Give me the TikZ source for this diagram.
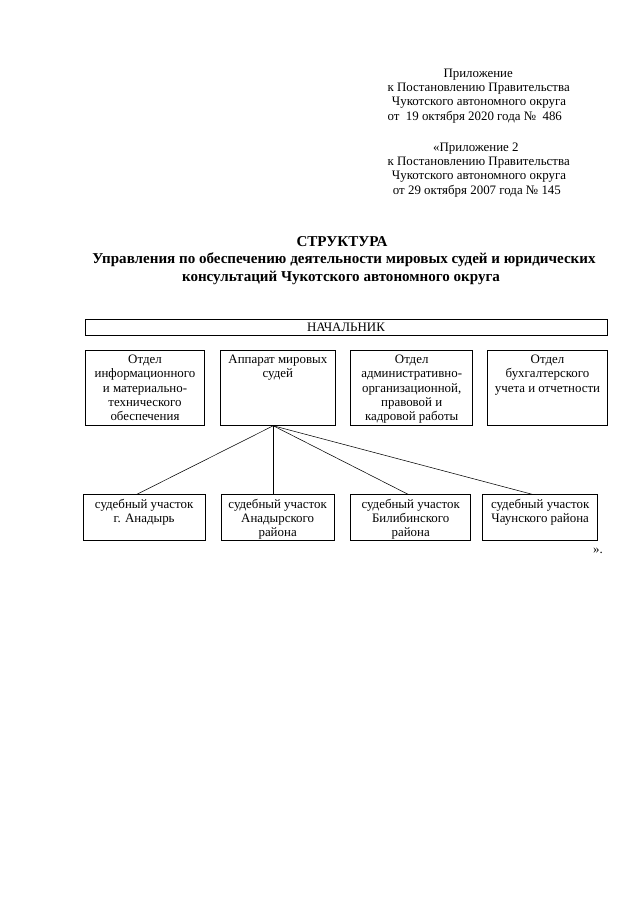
\documentclass[tikz,border=0pt]{standalone}
\usepackage{fontspec}
\setmainfont{Liberation Serif}
\usepackage{tikz}
\usetikzlibrary{calc, fit}
\tikzset{
  org box/.style={
    draw,
    line width=0.5pt,
    inner sep=0pt
  },
  box text/.style={
    anchor=north,
    align=center,
    inner sep=0pt,
    yshift=-4.2pt,
    font=\fontsize{12}{13.25}\selectfont
  },
  head line/.style={
    anchor=base west,
    inner sep=0pt,
    font=\fontsize{12}{13.8}\selectfont
  },
  title line/.style={
    anchor=base,
    inner sep=0pt,
    font=\fontsize{14}{16}\selectfont\bfseries
  },
  link/.style={
    line width=0.5pt
  }
}

\begin{document}
\begin{tikzpicture}[x=0.9297pt, y=-0.9297pt]

  %% ---- page frame (pixels of the scan, y downwards) ----
  \useasboundingbox[fill=white] (0,0) rectangle (640,905);

  %% ---- header in the upper right corner ----
  \node[head line] (hd1) at (443.3, 77)  {Приложение};
  \node[head line] (hd2) at (387.3, 91)  {к Постановлению Правительства};
  \node[head line] (hd3) at (391.7, 105.5) {Чукотского автономного округа};
  \node[head line] (hd4) at (387.3, 120.5) {от \ 19 октября 2020 года № \ 486};

  \node[head line] (hd5) at (433.0, 151)  {«Приложение 2};
  \node[head line] (hd6) at (387.3, 165)  {к Постановлению Правительства};
  \node[head line] (hd7) at (391.7, 179.5) {Чукотского автономного округа};
  \node[head line] (hd8) at (392.7, 194)  {от 29 октября 2007 года № 145};

  %% ---- title ----
  \node[title line] (ttl1) at (342, 246) {СТРУКТУРА};
  \node[title line] (ttl2) at (344, 263.5)
      {Управления по обеспечению деятельности мировых судей и юридических};
  \node[title line] (ttl3) at (341, 281) {консультаций Чукотского автономного округа};

  %% ---- head of the department ----
  \node[org box, fit={(85.7,319) (607.7,335)}] (chief) {};
  \node[head line, anchor=base] (chieftxt) at (346, 331.5) {НАЧАЛЬНИК};

  %% ---- first row: sections ----
  \node[org box, fit={(85.7,350.7) (204.3,425.5)}] (otdinf) {};
  \node[org box, fit={(220.7,350.7) (335.0,425.5)}] (apparat) {};
  \node[org box, fit={(350.7,350.7) (472.7,425.5)}] (otdadm) {};
  \node[org box, fit={(487.3,350.7) (607.7,425.5)}] (otdbuh) {};

  \node[box text] at (otdinf.north)
      {Отдел\\информационного\\и материально-\\технического\\обеспечения};
  \node[box text] at (apparat.north) {Аппарат мировых\\судей};
  \node[box text] at (otdadm.north)
      {Отдел\\административно-\\организационной,\\правовой и\\кадровой работы};
  \node[box text] at (otdbuh.north)
      {Отдел\\бухгалтерского\\учета и отчетности};

  %% ---- second row: court districts ----
  \node[org box, fit={(83.3,494.7) (205.0,540)}] (uch1) {};
  \node[org box, fit={(221.0,494.7) (334.3,540)}] (uch2) {};
  \node[org box, fit={(350.7,494.7) (470.7,540)}] (uch3) {};
  \node[org box, fit={(482.7,494.7) (597.7,540)}] (uch4) {};

  \node[box text] at (uch1.north) {судебный участок\\г. Анадырь};
  \node[box text] at (uch2.north) {судебный участок\\Анадырского\\района};
  \node[box text] at (uch3.north) {судебный участок\\Билибинского\\района};
  \node[box text] at (uch4.north) {судебный участок\\Чаунского района};

  %% ---- connectors from the apparatus ----
  \coordinate (hub) at ($ (apparat.south)+(-4.6,0) $);
  \draw[link] (hub) -- ($ (uch1.north)+(-7.5,0) $);
  \draw[link] (hub) -- (hub |- uch2.north);
  \draw[link] (hub) -- ($ (uch3.north)+(-2.4,0) $);
  \draw[link] (hub) -- ($ (uch4.north)+(-7.5,0) $);

  %% ---- closing quote ----
  \node[head line] (closeq) at (593, 553) {».};

\end{tikzpicture}
\end{document}
